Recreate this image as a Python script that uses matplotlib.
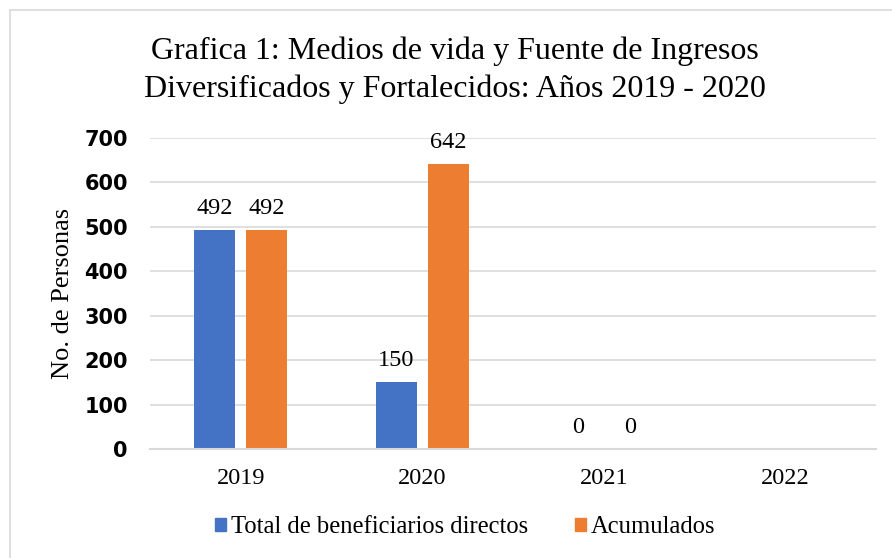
import matplotlib
matplotlib.use("Agg")
import matplotlib.pyplot as plt
import numpy as np
from matplotlib.patches import Rectangle

categories = ["2019", "2020", "2021", "2022"]
total_directos = [492, 150, 0, None]
acumulados = [492, 642, 0, None]
yticks = [0, 100, 200, 300, 400, 500, 600, 700]

serif = "Liberation Serif"
sans = "DejaVu Sans"

fig = plt.figure(figsize=(8.92, 5.58), dpi=100)
fig.patches.append(Rectangle((10/892, -0.1), 1.2, 1 - 10/558 + 0.1, transform=fig.transFigure,
                             fill=False, edgecolor="#d9d9d9", linewidth=1.2))
ax = fig.add_axes([150/892, 1 - 449/558, 726/892, (449 - 138)/558])

x = np.arange(len(categories))
w = 0.226
off = 0.143
blue = "#4472C4"
orange = "#ED7D31"
for i in range(len(categories)):
    if total_directos[i] is not None:
        ax.bar(x[i] - off, total_directos[i], w, color=blue)
        ax.annotate(str(total_directos[i]), (x[i] - off, total_directos[i]), xytext=(0, 8),
                    textcoords="offset points", ha="center", va="bottom",
                    fontsize=17.5, family=serif)
    if acumulados[i] is not None:
        ax.bar(x[i] + off, acumulados[i], w, color=orange)
        ax.annotate(str(acumulados[i]), (x[i] + off, acumulados[i]), xytext=(0, 8),
                    textcoords="offset points", ha="center", va="bottom",
                    fontsize=17.5, family=serif)

ax.set_xlim(-0.5, 3.5)
ax.set_ylim(0, 700)
ax.set_yticks(yticks)
ax.set_yticklabels([str(t) for t in yticks], fontsize=15, fontweight="bold", family=sans)
ax.set_xticks(x)
ax.set_xticklabels(categories, fontsize=17.5, family=serif)
ax.tick_params(length=0)
ax.tick_params(axis="x", pad=14)
ax.tick_params(axis="y", pad=16)
ax.grid(axis="y", color="#d9d9d9", linewidth=1.2)
ax.set_axisbelow(True)
for s in ["top", "right", "left"]:
    ax.spines[s].set_visible(False)
ax.spines["bottom"].set_color("#d9d9d9")
ax.spines["bottom"].set_linewidth(1.5)

ax.set_ylabel("No. de Personas", fontsize=19, family=serif)
ax.yaxis.set_label_coords(-0.105, 0.5)

fig.text(455/892, 1 - 70/558, "Grafica 1: Medios de vida y Fuente de Ingresos\nDiversificados y Fortalecidos: Años 2019 - 2020",
         ha="center", va="center", fontsize=23, family=serif, linespacing=1.4)

handles = [Rectangle((0, 0), 1, 1, color=blue), Rectangle((0, 0), 1, 1, color=orange)]
fig.legend(handles, ["Total de beneficiarios directos", "Acumulados"], loc="center",
           bbox_to_anchor=(465/892, 1 - 527/558), ncol=2, frameon=False,
           prop={"family": serif, "size": 17.7}, handlelength=0.45, handleheight=0.45,
           handletextpad=0.2, columnspacing=1.9)

fig.savefig("out.png", dpi=100)
